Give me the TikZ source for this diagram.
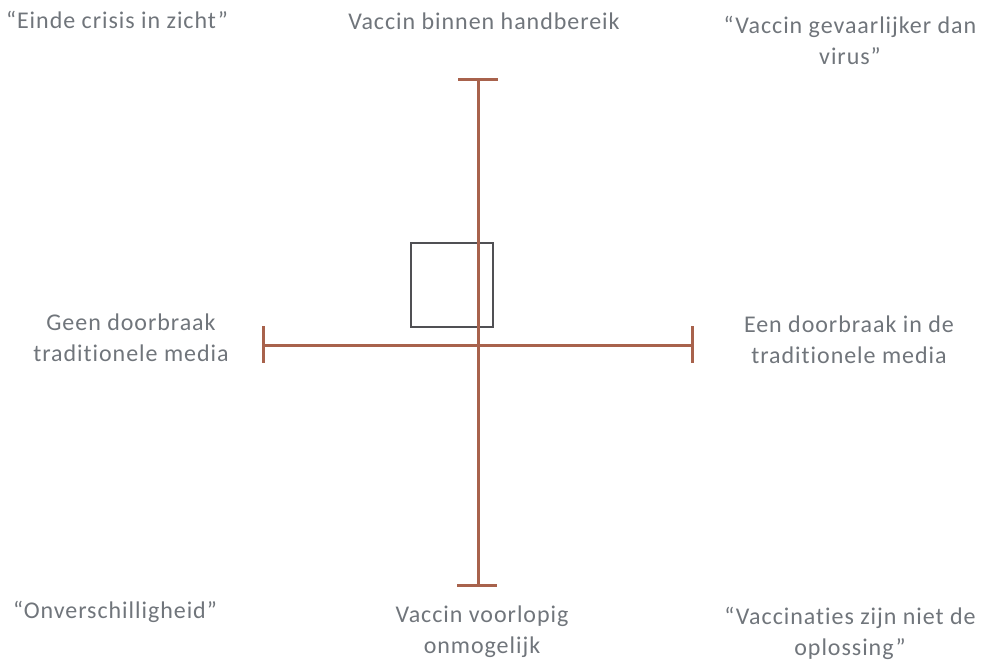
\documentclass[tikz,border=0pt]{standalone}
\usepackage{fontspec}
\setmainfont{Carlito}[LetterSpace=4,Ligatures={NoCommon}]
\usepackage{tikz}
\definecolor{axisbrown}{RGB}{168,98,76}
\definecolor{labelgray}{RGB}{112,117,123}
\definecolor{boxgray}{RGB}{80,80,84}
\begin{document}
\begin{tikzpicture}[x=1pt,y=1pt,yscale=-1,xscale=1,
  lbl/.style={text=labelgray,font=\fontsize{24}{31}\selectfont,align=center},
  axisline/.style={color=axisbrown,line width=3}]
\path[use as bounding box] (0,0) rectangle (982,666);

%Shape: Square
\draw [color=boxgray,line width=2] (411,243) rectangle (493,327) ;

%Straight Lines
\draw [axisline] (478,80) -- (478,585) ;
%Straight Lines
\draw [axisline] (458,80) -- (498,80) ;
%Straight Lines
\draw [axisline] (457,585) -- (497,585) ;
%Straight Lines
\draw [axisline] (263,345) -- (692,345) ;
%Straight Lines
\draw [axisline] (263,326) -- (263,363) ;
%Straight Lines
\draw [axisline] (692,326) -- (692,363) ;

% Text Node
\draw (117,20) node [lbl] (crisis) {“Einde crisis in zicht”};
% Text Node
\draw (484,21) node [lbl] (binnen) {Vaccin binnen handbereik};
% Text Node
\draw (850,40) node [lbl] (gevaar) {“Vaccin gevaarlijker dan\\virus”};
% Text Node
\draw (131,338) node [lbl] (geen) {Geen doorbraak\\traditionele media};
% Text Node
\draw (849,340) node [lbl] (een) {Een doorbraak in de\\traditionele media};
% Text Node
\draw (115,612) node [lbl] (onver) {“Onverschilligheid”};
% Text Node
\draw (482,632) node [lbl] (voorlopig) {Vaccin voorlopig\\onmogelijk};
% Text Node
\draw (850,633) node [lbl] (oplossing) {“Vaccinaties zijn niet de\\oplossing”};

\end{tikzpicture}
\end{document}
